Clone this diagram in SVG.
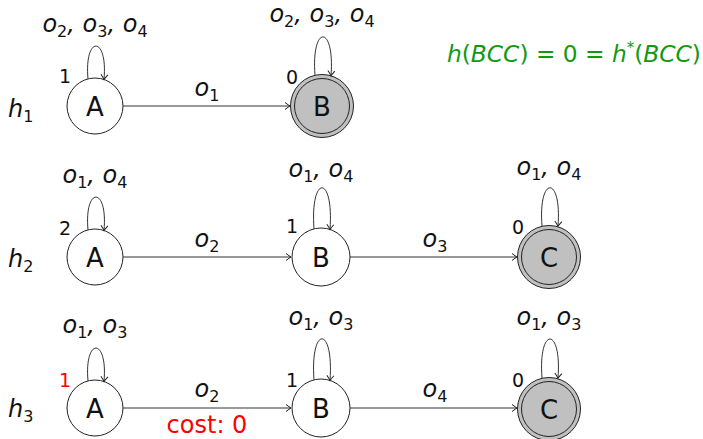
<svg xmlns="http://www.w3.org/2000/svg" width="703" height="439" viewBox="0 0 703 439">
<defs>
<marker id="arr" markerWidth="10" markerHeight="10" refX="0" refY="0" viewBox="-6 -5 8 10" orient="auto" markerUnits="userSpaceOnUse">
<path d="M -5 -3.5 Q -1.5 -0.8 0 0 Q -1.5 0.8 -5 3.5" fill="none" stroke="#222" stroke-width="1"/>
</marker>
</defs>
<style>
.st{fill:#fff;stroke:#222;stroke-width:1}
.fin{fill:#c0c0c0;stroke:#222;stroke-width:1}
.inr{fill:none;stroke:#222;stroke-width:1}
.e{fill:none;stroke:#333;stroke-width:1;marker-end:url(#arr)}
.lt{font-family:"DejaVu Sans",sans-serif;font-size:26px;text-anchor:middle;fill:#111}
.n{font-family:"DejaVu Sans",sans-serif;font-size:19px;text-anchor:middle;fill:#111}
.red{fill:#ff0000}
.m{font-family:"DejaVu Sans",sans-serif;font-style:italic;font-size:24px;text-anchor:middle;fill:#111}
.s{font-style:normal;font-size:16px}
.h{font-family:"DejaVu Sans",sans-serif;font-style:italic;font-size:24px;fill:#111}
.g{font-family:"DejaVu Sans",sans-serif;font-size:23.3px;fill:#119911}
.i{font-style:italic}
.c{font-family:"DejaVu Sans",sans-serif;font-size:24px;fill:#ff0000;text-anchor:middle}
</style>

<text class="h" x="8" y="117">h<tspan class="s" dy="5">1</tspan></text>
<text class="h" x="8" y="267">h<tspan class="s" dy="5">2</tspan></text>
<text class="h" x="8" y="417">h<tspan class="s" dy="5">3</tspan></text>

<text class="g" x="447" y="62"><tspan class="i">h</tspan>(<tspan class="i">BCC</tspan>) = 0 = <tspan class="i">h</tspan><tspan font-size="15" dy="-9">*</tspan><tspan dy="9">(</tspan><tspan class="i">BCC</tspan>)</text>

<g id="r1A"><circle class="st" cx="95" cy="106" r="28"/><text class="lt" x="95" y="115.5">A</text><text class="n" x="65" y="83">1</text></g>
<g id="r1B"><circle class="fin" cx="322" cy="106" r="31.5"/><circle class="inr" cx="322" cy="106" r="27.5"/><text class="lt" x="322" y="115.5">B</text><text class="n" x="292" y="84">0</text></g>

<g id="r2A"><circle class="st" cx="95" cy="257" r="28"/><text class="lt" x="95" y="266.5">A</text><text class="n" x="65" y="235">2</text></g>
<g id="r2B"><circle class="st" cx="321" cy="257" r="29"/><text class="lt" x="321" y="266.5">B</text><text class="n" x="292" y="233">1</text></g>
<g id="r2C"><circle class="fin" cx="549" cy="257" r="31.5"/><circle class="inr" cx="549" cy="257" r="27.5"/><text class="lt" x="549" y="266.5">C</text><text class="n" x="518" y="234">0</text></g>

<g id="r3A"><circle class="st" cx="95" cy="408" r="28"/><text class="lt" x="95" y="417.5">A</text><text class="n red" x="65" y="387">1</text></g>
<g id="r3B"><circle class="st" cx="321" cy="408" r="29"/><text class="lt" x="321" y="417.5">B</text><text class="n" x="292" y="387">1</text></g>
<g id="r3C"><circle class="fin" cx="549" cy="409" r="31.5"/><circle class="inr" cx="549" cy="409" r="27.5"/><text class="lt" x="549" y="418.5">C</text><text class="n" x="518" y="387">0</text></g>

<g id="connectors">
<path class="e" d="M 123 106 L 290 106"/>
<path class="e" d="M 123 257 L 291 257"/>
<path class="e" d="M 350 257 L 517 257"/>
<path class="e" d="M 123 408 L 291 408"/>
<path class="e" d="M 350 408 L 517 408"/>

<path class="e" d="M 88 79 C 84 35, 108 35, 104 79.5"/>
<path class="e" d="M 315 75.3 C 311 24, 335 24, 331 75.8"/>
<path class="e" d="M 88 230 C 84 186, 108 186, 104 230.5"/>
<path class="e" d="M 314 229 C 310 174, 334 174, 330 229.5"/>
<path class="e" d="M 542 226 C 538 175, 562 175, 558 226.3"/>
<path class="e" d="M 88 381 C 84 337, 108 337, 104 381.5"/>
<path class="e" d="M 314 380 C 310 325, 334 325, 330 380.5"/>
<path class="e" d="M 542 378 C 538 326, 562 326, 558 378.3"/>

<text class="m" x="207" y="96">o<tspan class="s" dy="5">1</tspan></text>
<text class="m" x="207" y="247">o<tspan class="s" dy="5">2</tspan></text>
<text class="m" x="435" y="247">o<tspan class="s" dy="5">3</tspan></text>
<text class="m" x="207" y="397">o<tspan class="s" dy="5">2</tspan></text>
<text class="m" x="435" y="397">o<tspan class="s" dy="5">4</tspan></text>
<text class="c" x="207" y="433">cost: 0</text>

<text class="m" x="95" y="32">o<tspan class="s" dy="5">2</tspan><tspan dy="-5">, o</tspan><tspan class="s" dy="5">3</tspan><tspan dy="-5">, o</tspan><tspan class="s" dy="5">4</tspan></text>
<text class="m" x="322" y="22">o<tspan class="s" dy="5">2</tspan><tspan dy="-5">, o</tspan><tspan class="s" dy="5">3</tspan><tspan dy="-5">, o</tspan><tspan class="s" dy="5">4</tspan></text>
<text class="m" x="95" y="183">o<tspan class="s" dy="5">1</tspan><tspan dy="-5">, o</tspan><tspan class="s" dy="5">4</tspan></text>
<text class="m" x="321" y="177">o<tspan class="s" dy="5">1</tspan><tspan dy="-5">, o</tspan><tspan class="s" dy="5">4</tspan></text>
<text class="m" x="549" y="175">o<tspan class="s" dy="5">1</tspan><tspan dy="-5">, o</tspan><tspan class="s" dy="5">4</tspan></text>
<text class="m" x="95" y="333">o<tspan class="s" dy="5">1</tspan><tspan dy="-5">, o</tspan><tspan class="s" dy="5">3</tspan></text>
<text class="m" x="321" y="325">o<tspan class="s" dy="5">1</tspan><tspan dy="-5">, o</tspan><tspan class="s" dy="5">3</tspan></text>
<text class="m" x="549" y="325">o<tspan class="s" dy="5">1</tspan><tspan dy="-5">, o</tspan><tspan class="s" dy="5">3</tspan></text>
</g>
</svg>
